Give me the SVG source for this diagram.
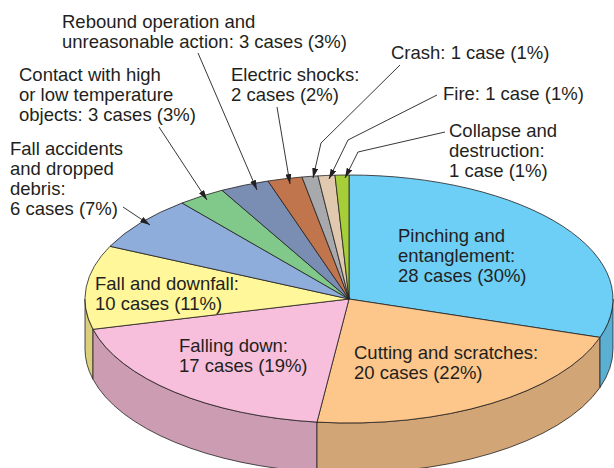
<svg xmlns="http://www.w3.org/2000/svg" width="614" height="468" viewBox="0 0 614 468">
<defs>
<style>
.s{stroke:#231f20;stroke-width:0.8;stroke-linejoin:round}
.t{font-family:"Liberation Sans",Arial,sans-serif;font-size:18.5px;fill:#231f20}
.l{fill:none;stroke:#231f20;stroke-width:0.9}
</style>
<marker id="ah" viewBox="0 0 10 6" refX="10" refY="3" markerWidth="10" markerHeight="6" markerUnits="userSpaceOnUse" orient="auto">
<path d="M0,0 L10,3 L0,6 Z" fill="#231f20"/>
</marker>
</defs>
<rect width="614" height="468" fill="#fff"/>
<g id="sides">
<path class="s" fill="#d9cf7c" d="M85,299 A264,124 0 0 0 93,329.3 L93,379.3 A264,124 0 0 1 85,349 Z"/>
<path class="s" fill="#cc9cb3" d="M93,329.3 A264,124 0 0 0 317,422.1 L317,472.1 A264,124 0 0 1 93,379.3 Z"/>
<path class="s" fill="#d2a577" d="M317,422.1 A264,124 0 0 0 600,337.4 L600,387.4 A264,124 0 0 1 317,472.1 Z"/>
<path class="s" fill="#5bafd3" d="M600,337.4 A264,124 0 0 0 613,299 L613,349 A264,124 0 0 1 600,387.4 Z"/>
</g>
<g id="slice-pinching"><path class="s" fill="#6dcff6" d="M349,299 L349,175 A264,124 0 0 1 600,337.4 Z"/></g>
<g id="slice-cutting"><path class="s" fill="#fdc68a" d="M349,299 L600,337.4 A264,124 0 0 1 317,422.1 Z"/></g>
<g id="slice-falling-down"><path class="s" fill="#f7bfdb" d="M349,299 L317,422.1 A264,124 0 0 1 93,329.3 Z"/></g>
<g id="slice-fall-downfall"><path class="s" fill="#fff799" d="M349,299 L93,329.3 A264,124 0 0 1 110,246.3 Z"/></g>
<g id="slice-fall-accidents"><path class="s" fill="#8eaddb" d="M349,299 L110,246.3 A264,124 0 0 1 182,203 Z"/></g>
<g id="slice-contact"><path class="s" fill="#80c98a" d="M349,299 L182,203 A264,124 0 0 1 222,190.3 Z"/></g>
<g id="slice-rebound"><path class="s" fill="#7a8db3" d="M349,299 L222,190.3 A264,124 0 0 1 268,181 Z"/></g>
<g id="slice-electric"><path class="s" fill="#c1754d" d="M349,299 L268,181 A264,124 0 0 1 302,177 Z"/></g>
<g id="slice-crash"><path class="s" fill="#a7a9ac" d="M349,299 L302,177 A264,124 0 0 1 318,175.9 Z"/></g>
<g id="slice-fire"><path class="s" fill="#e0c9ae" d="M349,299 L318,175.9 A264,124 0 0 1 335,175.2 Z"/></g>
<g id="slice-collapse"><path class="s" fill="#a6ce39" d="M349,299 L335,175.2 A264,124 0 0 1 349,175 Z"/></g>
<g id="connectors">
<path class="l" marker-end="url(#ah)" d="M198,53 L257,190"/>
<path class="l" marker-end="url(#ah)" d="M159,127 L207,200"/>
<path class="l" marker-end="url(#ah)" d="M123,207 L150,225"/>
<path class="l" marker-end="url(#ah)" d="M277,107 L290,184"/>
<path class="l" marker-end="url(#ah)" d="M400,65 L321,143 L313,178"/>
<path class="l" marker-end="url(#ah)" d="M437,95 L348,140 L329,179"/>
<path class="l" marker-end="url(#ah)" d="M445,132 L358,152 L345,178"/>
</g>
<g id="labels">
<text class="t" x="62" y="28">Rebound operation and</text>
<text class="t" x="62" y="48">unreasonable action: 3 cases (3%)</text>
<text class="t" x="391" y="59">Crash: 1 case (1%)</text>
<text class="t" x="19" y="81">Contact with high</text>
<text class="t" x="19" y="101">or low temperature</text>
<text class="t" x="19" y="121">objects: 3 cases (3%)</text>
<text class="t" x="231" y="81">Electric shocks:</text>
<text class="t" x="231" y="101">2 cases (2%)</text>
<text class="t" x="443" y="100">Fire: 1 case (1%)</text>
<text class="t" x="449" y="137">Collapse and</text>
<text class="t" x="449" y="157">destruction:</text>
<text class="t" x="449" y="177">1 case (1%)</text>
<text class="t" x="10" y="155">Fall accidents</text>
<text class="t" x="10" y="175">and dropped</text>
<text class="t" x="10" y="195">debris:</text>
<text class="t" x="10" y="215">6 cases (7%)</text>
<text class="t" x="398" y="242">Pinching and</text>
<text class="t" x="398" y="262">entanglement:</text>
<text class="t" x="398" y="282">28 cases (30%)</text>
<text class="t" x="95" y="290">Fall and downfall:</text>
<text class="t" x="95" y="310">10 cases (11%)</text>
<text class="t" x="179" y="352">Falling down:</text>
<text class="t" x="179" y="372">17 cases (19%)</text>
<text class="t" x="354" y="359">Cutting and scratches:</text>
<text class="t" x="354" y="379">20 cases (22%)</text>
</g>
</svg>
